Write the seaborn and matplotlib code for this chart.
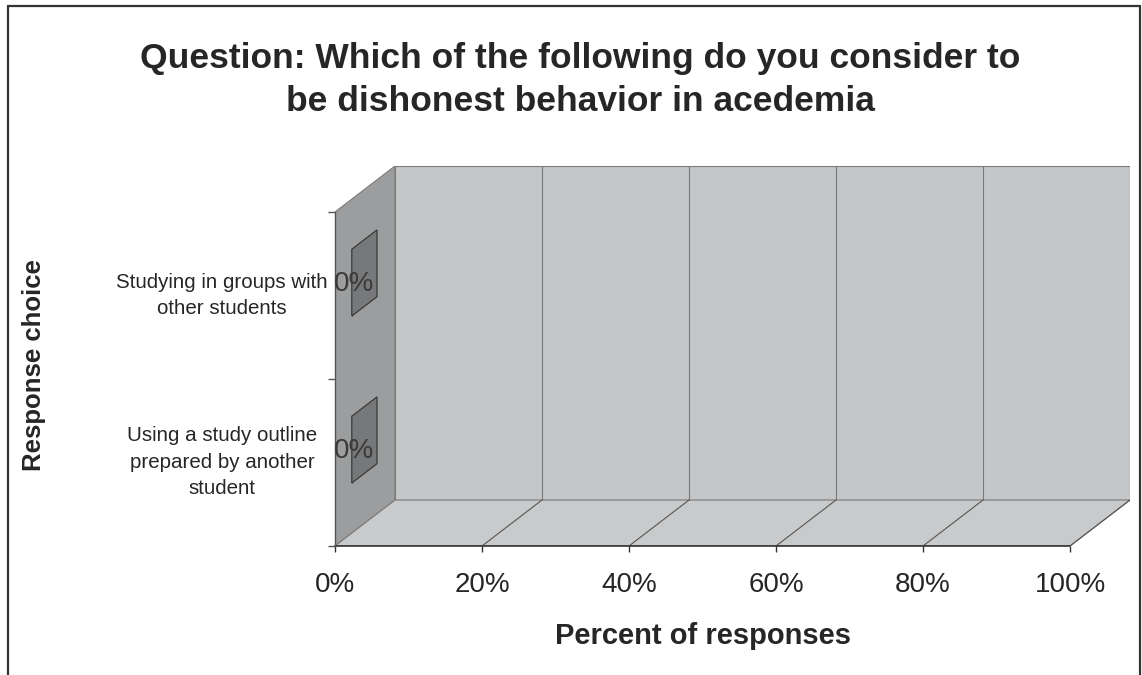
import matplotlib
matplotlib.use("Agg")
import matplotlib.pyplot as plt
from matplotlib.patches import Polygon
from matplotlib.lines import Line2D
import seaborn as sns
import pandas as pd

# ---- data -------------------------------------------------------------
categories = [
    "Using a study outline\nprepared by another\nstudent",
    "Studying in groups with\nother students",
]
percent_values = [0, 0]
x_ticks = [0, 20, 40, 60, 80, 100]
x_tick_labels = ["0%", "20%", "40%", "60%", "80%", "100%"]
title_text = "Question: Which of the following do you consider to\nbe dishonest behavior in acedemia"
x_label = "Percent of responses"
y_label = "Response choice"

# ---- style ------------------------------------------------------------
sns.set_theme(style="white")
plt.rcParams["font.family"] = ["Liberation Sans", "DejaVu Sans"]
TXT = "#262626"
BACK_WALL = "#c4c6c8"
SIDE_WALL = "#9c9d9e"
FLOOR = "#c9cacb"
BAR_FILL = "#77787a"
BAR_EDGE = "#3a3a3a"
GRID = "#7a7a7a"

# oblique depth offset of the pseudo-3D box (data units)
DX, DY = 8.163, 0.2754
F1, F2 = 0.28, 0.70      # front / back depth of the bars
BAR_H = 0.4

W, H = 1142, 675
fig = plt.figure(figsize=(W / 100, H / 100), dpi=100)
fig.patch.set_facecolor("white")
ax = fig.add_axes([335 / W, (H - 546) / H, 795 / W, 380 / H])
ax.set_facecolor("none")

centers = [0.5 + i for i in range(len(categories))]
df = pd.DataFrame({
    "pos": [c + DY * F1 for c in centers],
    "value": percent_values,
})

# walls and floor
ax.add_patch(Polygon([(DX, DY), (100 + DX, DY), (100 + DX, 2 + DY), (DX, 2 + DY)],
                     closed=True, facecolor=BACK_WALL, edgecolor=GRID, lw=0.8, zorder=0))
ax.add_patch(Polygon([(0, 0), (DX, DY), (DX, 2 + DY), (0, 2)],
                     closed=True, facecolor=SIDE_WALL, edgecolor=GRID, lw=0.8, zorder=0.5))
ax.add_patch(Polygon([(0, 0), (100, 0), (100 + DX, DY), (DX, DY)],
                     closed=True, facecolor=FLOOR, edgecolor=GRID, lw=0.8, zorder=0.5))
for t in x_ticks[1:-1]:
    ax.plot([t + DX, t + DX], [DY, 2 + DY], color=GRID, lw=0.8, zorder=1)
for t in x_ticks[1:]:
    ax.plot([t, t + DX], [0, DY], color="#555555", lw=0.8, zorder=1)

# front faces of the bars
n_before = len(ax.patches)
sns.barplot(data=df, x="value", y="pos", orient="h", native_scale=True,
            width=BAR_H, color=BAR_FILL, edgecolor=BAR_EDGE, linewidth=0.8,
            saturation=1, errorbar=None, ax=ax, zorder=3)
for rect in ax.patches[n_before:]:
    rect.set_x(rect.get_x() + DX * F1)
    rect.set_zorder(3)

# top faces and end caps of the bars
for c, v in zip(centers, percent_values):
    yb, yt = c - BAR_H / 2, c + BAR_H / 2
    if v > 0:
        ax.add_patch(Polygon([(DX * F1, yt + DY * F1), (v + DX * F1, yt + DY * F1),
                              (v + DX * F2, yt + DY * F2), (DX * F2, yt + DY * F2)],
                             closed=True, facecolor="#8d8e90", edgecolor=BAR_EDGE,
                             lw=0.8, zorder=3))
    ax.add_patch(Polygon([(v + DX * F1, yb + DY * F1), (v + DX * F2, yb + DY * F2),
                          (v + DX * F2, yt + DY * F2), (v + DX * F1, yt + DY * F1)],
                         closed=True, facecolor=BAR_FILL, edgecolor=BAR_EDGE,
                         lw=0.9, zorder=3.5))
    ax.text(v + DX * 0.32, c + DY * 0.26, f"{v:.0f}%", ha="center", va="center",
            fontsize=20, color="#3a3a3a", zorder=4)

# front axis lines
ax.plot([0, 100], [0, 0], color="#333333", lw=1.2, zorder=2, clip_on=False)
ax.plot([0, 0], [0, 2], color="#555555", lw=1.0, zorder=2, clip_on=False)

ax.set_xlim(0, 100 + DX)
ax.set_ylim(0, 2 + DY)
for s in ax.spines.values():
    s.set_visible(False)
ax.set_xticks(x_ticks)
ax.set_xticklabels(x_tick_labels, fontsize=20, color=TXT)
ax.set_yticks([0, 1, 2])
ax.set_yticklabels([])
ax.tick_params(axis="x", bottom=True, length=4, width=1, color="#333333", pad=15)
ax.tick_params(axis="y", left=True, length=5, width=1, color="#555555")
ax.set_xlabel("")
ax.set_ylabel("")

for c, lab in zip(centers, categories):
    ax.text((222 - 335) / 795, c, lab, transform=ax.get_yaxis_transform(),
            ha="center", va="center", fontsize=14.8, color=TXT, linespacing=1.5)

fig.text(580 / W, 1 - 80 / H, title_text, ha="center", va="center",
         fontsize=25.5, fontweight="bold", color=TXT, linespacing=1.4)
fig.text(703 / W, 1 - 636 / H, x_label, ha="center", va="center",
         fontsize=21, fontweight="bold", color=TXT)
fig.text(34 / W, 1 - 365 / H, y_label, ha="center", va="center", rotation=90,
         fontsize=18.5, fontweight="bold", color=TXT)

# chart frame
for xs, ys in [((8, 8), (6, H + 5)), ((8, 1140), (6, 6)), ((1140, 1140), (6, H + 5))]:
    fig.add_artist(Line2D([x / W for x in xs], [1 - y / H for y in ys],
                          color="#333333", lw=1.6))

fig.savefig("out.png", dpi=100)
